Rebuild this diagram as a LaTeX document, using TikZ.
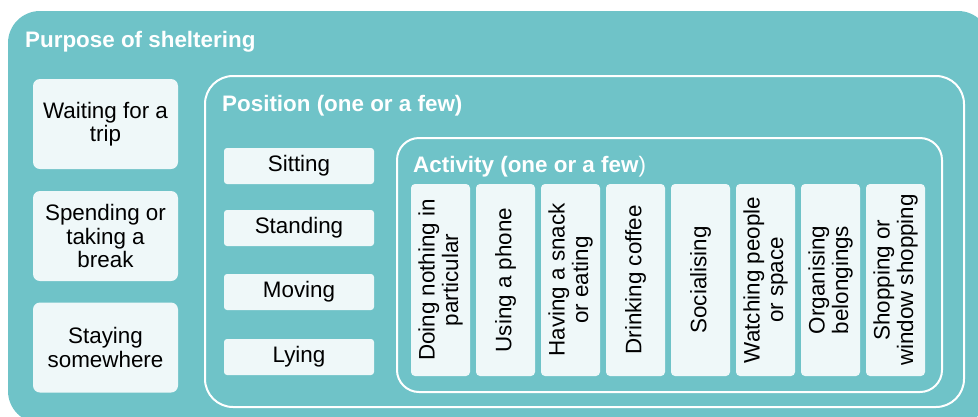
\documentclass[tikz,border=0pt]{standalone}
\usepackage{fontspec}
\setmainfont{Liberation Sans}
\definecolor{shelterteal}{RGB}{111,195,200}
\definecolor{paleitem}{RGB}{239,248,249}
\begin{document}
\begin{tikzpicture}[x=1pt,y=-1pt,
  bodytext/.style={font=\fontsize{22.4}{23.5}\selectfont, text=black, align=center, inner sep=0pt},
  heading/.style={font=\fontsize{22.4}{23.5}\selectfont\bfseries, text=white, anchor=base west, inner sep=0pt},
  frame/.style={draw=white, line width=2pt, fill=none},
  purposebox/.style={bodytext, fill=paleitem, rounded corners=7pt, minimum width=145pt, minimum height=90pt},
  posbox/.style={bodytext, fill=paleitem, rounded corners=3pt, minimum width=150pt, minimum height=36pt},
  actbox/.style={bodytext, fill=paleitem, rounded corners=4pt, rotate=90, minimum width=192pt, minimum height=59pt},
]
\useasboundingbox (0,0) rectangle (978,416);

% outer panel, running past the right and bottom edges
\begin{scope}
  \clip (0,0) rectangle (978,416);
  \fill[shelterteal, rounded corners=32pt] (8,11) rectangle (990,423);
\end{scope}
\node[heading] (purposetitle) at (25,47) {Purpose of sheltering};

% purposes
\node[purposebox] (trip)  at (105.5,124)   {Waiting for a\\trip};
\node[purposebox] (brk)   at (105.5,236)   {Spending or\\taking a\\break};
\node[purposebox] (stay)  at (105.5,347.5) {Staying\\somewhere};

% position frame
\node[frame, rounded corners=28pt, minimum width=759pt, minimum height=331pt] (posframe) at (584.5,241.5) {};
\node[heading] (postitle) at (222,111) {Position (one or a few)};
\node[posbox] (sit)   at (299,166) {Sitting};
\node[posbox] (stand) at (299,228) {Standing};
\node[posbox] (move)  at (299,292) {Moving};
\node[posbox] (lie)   at (299,357) {Lying};

% activity frame
\node[frame, rounded corners=22pt, minimum width=545pt, minimum height=254pt] (actframe) at (669.5,265) {};
\node[heading] (acttitle) at (413,172) {Activity (one or a few\textmd{)}};
\node[actbox] (idle)    at (440.5,280) {Doing nothing in\\particular};
\node[actbox] (phone)   at (505.5,280) {Using a phone};
\node[actbox] (snack)   at (570.5,280) {Having a snack\\or eating};
\node[actbox] (coffee)  at (635.5,280) {Drinking coffee};
\node[actbox] (social)  at (700.5,280) {Socialising};
\node[actbox] (watch)   at (765.5,280) {Watching people\\or space};
\node[actbox] (organise) at (830.5,280) {Organising\\belongings};
\node[actbox] (shop)    at (895.5,280) {Shopping or\\window shopping};
\end{tikzpicture}
\end{document}
